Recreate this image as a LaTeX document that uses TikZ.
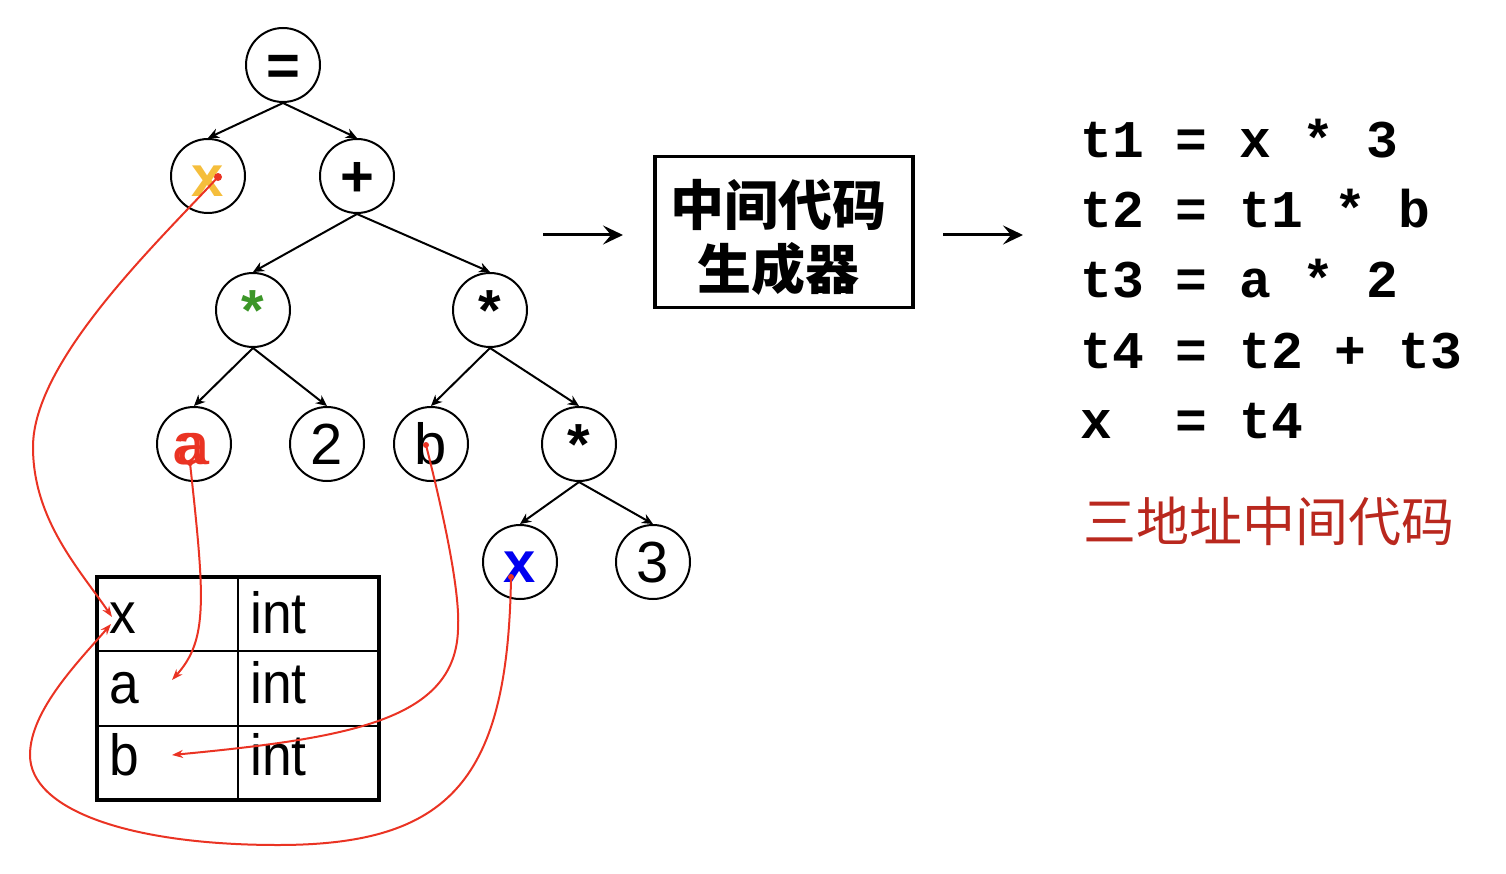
\documentclass[tikz,border=0pt]{standalone}
\usepackage{fontspec}
\setmainfont{Liberation Sans}
\newfontfamily\narrowfont[FakeStretch=0.92]{Liberation Sans}
\newfontfamily\codefont{Liberation Mono}
\newfontfamily\cjk{Noto Sans CJK SC}
\usetikzlibrary{arrows.meta}
\definecolor{refred}{RGB}{234,51,35}
\definecolor{xyellow}{RGB}{245,190,60}
\definecolor{stargreen}{RGB}{60,150,40}
\definecolor{xblue}{RGB}{0,0,240}
\definecolor{darkred}{RGB}{185,40,30}
\tikzset{
  tnode/.style={circle, draw, line width=2pt, minimum size=74pt, inner sep=0pt,
    font=\fontsize{58}{58}\selectfont, text height=41.5pt, text depth=0pt},
  tedge/.style={line width=2pt, -{Stealth[length=11pt,width=10pt]}},
  refline/.style={draw=refred, line width=2pt, -{Stealth[length=11pt,width=8pt]}},
  refdot/.style={fill=refred},
  tabtext/.style={anchor=base west, inner sep=0pt, font=\narrowfont\fontsize{58}{58}\selectfont},
  codeline/.style={anchor=base west, inner sep=0pt, font=\codefont\bfseries\fontsize{53}{53}\selectfont},
  bigarrow/.style={line width=3pt, -{Stealth[length=20pt,width=19pt,inset=8pt]}},
}
\begin{document}
\begin{tikzpicture}[x=1pt,y=-1pt]
\useasboundingbox (0,0) rectangle (1506,874);
% tree
\node[tnode] (eq) at (283,65) {\textbf{=}};
\node[tnode, text=xyellow] (x1) at (208,176) {\textbf{x}};
\node[tnode] (plus) at (357,176) {\textbf{+}};
\node[tnode, text=stargreen] (m1) at (253,310) {\textbf{*}};
\node[tnode] (m2) at (490,310) {\textbf{*}};
\node[tnode, text=refred] (na) at (194,444) {\makebox[0pt][l]{\kern-5pt a}a};
\node[tnode] (n2) at (327,444) {2};
\node[tnode] (nb) at (431,444) {b};
\node[tnode] (m3) at (579,444) {\textbf{*}};
\node[tnode, text=xblue] (x2) at (520,562) {\textbf{x}};
\node[tnode] (n3) at (653,562) {3};
\draw[tedge] (eq.south) -- (x1.north);
\draw[tedge] (eq.south) -- (plus.north);
\draw[tedge] (plus.south) -- (m1.north);
\draw[tedge] (plus.south) -- (m2.north);
\draw[tedge] (m1.south) -- (na.north);
\draw[tedge] (m1.south) -- (n2.north);
\draw[tedge] (m2.south) -- (nb.north);
\draw[tedge] (m2.south) -- (m3.north);
\draw[tedge] (m3.south) -- (x2.north);
\draw[tedge] (m3.south) -- (n3.north);
% table
\draw[line width=1.5pt] (238,577) -- (238,800);
\draw[line width=1.5pt] (97,651) -- (379,651);
\draw[line width=1.5pt] (97,726) -- (379,726);
\draw[line width=3.5pt] (97,577) rectangle (379,800);
\node[tabtext] (tx) at (109,633) {x};
\node[tabtext] (ti1) at (250,633) {int};
\node[tabtext] (ta) at (109,703) {a};
\node[tabtext] (ti2) at (250,703) {int};
\node[tabtext] (tb) at (109,775) {b};
\node[tabtext] (ti3) at (250,775) {int};
% red references
\coordinate (dx) at (218,177);
\coordinate (da) at (190,463);
\coordinate (db) at (426,445);
\coordinate (dx2) at (511,577);
\coordinate (ex1) at (112,617);
\coordinate (ex2) at (111,624);
\coordinate (ea) at (172,680);
\coordinate (eb) at (172,755);
\draw[refline] (dx) .. controls (160,240) and (33,360) .. (33,447) .. controls (33,520) and (80,570) .. (ex1);
\draw[refline] (da) .. controls (205,600) and (208,640) .. (ea);
\draw[refline] (db) .. controls (450,540) and (460,600) .. (458,630) .. controls (455,720) and (350,738) .. (eb);
\draw[refline] (dx2) .. controls (508,780) and (450,845) .. (278,845) .. controls (130,845) and (30,810) .. (30,755) .. controls (30,710) and (80,660) .. (ex2);
\fill[refdot] (dx) circle (4pt);
\fill[refdot] (da) circle (3pt);
\fill[refdot] (db) circle (3pt);
\fill[refdot] (dx2) circle (3pt);
% generator box
\node[draw, line width=3.5pt, minimum width=258pt, minimum height=151pt] (gen) at (784,232) {};
\node[align=center, inner sep=0pt, font=\cjk\bfseries\fontsize{54}{64}\selectfont] (gentext) at (778,237) {中间代码\\生成器};
\coordinate (a1s) at (543,235);
\coordinate (a1e) at (623,235);
\coordinate (a2s) at (943,235);
\coordinate (a2e) at (1023,235);
\draw[bigarrow] (a1s) -- (a1e);
\draw[bigarrow] (a2s) -- (a2e);
% code
\node[codeline] (c1) at (1080,158) {t1 = x * 3};
\node[codeline] (c2) at (1080,228) {t2 = t1 * b};
\node[codeline] (c3) at (1080,298) {t3 = a * 2};
\node[codeline] (c4) at (1080,368) {t4 = t2 + t3};
\node[codeline] (c5) at (1080,438) {x\ \ = t4};
\node[anchor=base west, inner sep=0pt, text=darkred, font=\cjk\fontsize{53}{53}\selectfont] (title) at (1083,541) {三地址中间代码};
\end{tikzpicture}
\end{document}
